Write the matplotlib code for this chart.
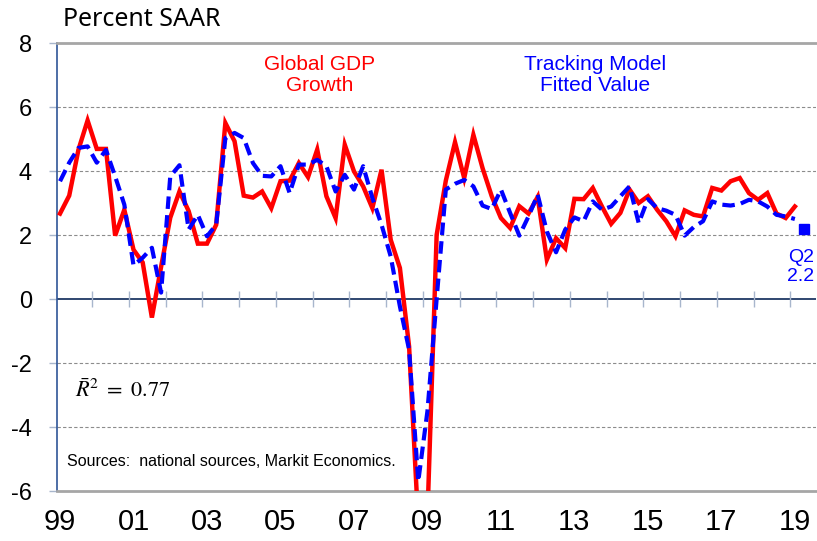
import matplotlib
matplotlib.use("Agg")
import matplotlib.pyplot as plt
from matplotlib import font_manager

# Quarterly data, 1999Q1 .. 2019Q1 (percent SAAR)
global_gdp = [2.67, 3.23, 4.66, 5.58, 4.69, 4.69, 1.98, 2.79, 1.54, 1.14,
              -0.58, 1.0, 2.54, 3.36, 2.75, 1.73, 1.73, 2.32, 5.5, 4.93,
              3.23, 3.17, 3.36, 2.84, 3.68, 3.7, 4.25, 3.81, 4.67, 3.21,
              2.53, 4.82, 3.99, 3.52, 2.84, 4.04, 1.85, 0.97, -1.48, -7.0,
              -6.8, 2.0, 3.7, 4.9, 3.78, 5.13, 4.09, 3.21, 2.53, 2.22,
              2.9, 2.67, 3.19, 1.23, 1.9, 1.59, 3.13, 3.12, 3.47, 2.89,
              2.35, 2.69, 3.42, 3.0, 3.21, 2.79, 2.43, 1.96, 2.77, 2.63,
              2.58, 3.47, 3.39, 3.68, 3.78, 3.31, 3.1, 3.31, 2.67, 2.53,
              2.89]

tracking_model = [3.68, 4.26, 4.72, 4.77, 4.26, 4.66, 3.83, 2.95, 1.05, 1.29,
                  1.6, 0.2, 3.83, 4.18, 2.17, 2.63, 1.96, 2.32, 5.03, 5.19,
                  5.03, 4.25, 3.85, 3.83, 4.15, 3.31, 4.2, 4.2, 4.35, 4.15,
                  3.36, 3.88, 3.42, 4.15, 3.16, 2.32, 1.33, -0.23, -1.58, -5.7,
                  -3.5, 0.0, 3.42, 3.6, 3.72, 3.52, 2.92, 2.81, 3.42, 2.69,
                  1.98, 2.58, 3.26, 2.11, 1.46, 2.17, 2.55, 2.43, 3.05, 2.79,
                  2.89, 3.21, 3.52, 2.37, 3.12, 2.84, 2.76, 2.63, 1.98, 2.25,
                  2.43, 3.05, 2.95, 2.92, 2.97, 3.1, 3.05, 2.89, 2.63, 2.58,
                  2.5]

# 2019Q2 tracking estimate
q2_index = 81
q2_value = 2.2

year_labels = ['99', '01', '03', '05', '07', '09', '11', '13', '15', '17', '19']
y_ticks = [8, 6, 4, 2, 0, -2, -4, -6]

quarters = list(range(len(global_gdp)))


def has_font(name):
    try:
        font_manager.findfont(name, fallback_to_default=False)
        return True
    except Exception:
        return False


if has_font('Liberation Sans Narrow'):
    narrow = 'Liberation Sans Narrow'
    xlab_size, src_size = 23, 13
else:
    narrow = 'Liberation Sans'
    xlab_size, src_size = 21, 11.5

plt.rcParams['font.family'] = ['Liberation Sans', 'DejaVu Sans']
plt.rcParams['mathtext.fontset'] = 'stix'

fig = plt.figure(figsize=(8.17, 5.41), dpi=100)
ax = fig.add_axes([57 / 817, 50 / 541, 759 / 817, 448 / 541])

# grid lines
for g in [6, 4, 2, -2, -4]:
    ax.axhline(g, color='#8c8c8c', lw=0.8, ls=(0, (3, 2)), zorder=1)
ax.axhline(0, color='#1f3864', lw=1.3, zorder=2)

# year ticks on the zero line
year_marks = [q + 3.5 for q in range(0, len(global_gdp), 4)]
ax.vlines(year_marks, -0.25, 0.25, color='#a8b6cc', lw=1.0, zorder=2)

ax.plot(quarters, global_gdp, color='#ff0000', lw=3.2, zorder=4,
        solid_joinstyle='miter')
ax.plot(quarters, tracking_model, color='#0000ff', lw=3.0,
        dashes=(3.0, 1.5), zorder=5)
ax.plot([q2_index], [q2_value], marker='s', ms=7.5, color='#0000ff',
        ls='none', zorder=6, clip_on=False)

ax.set_xlim(-0.33, 82.3)
ax.set_ylim(-6, 8)

ax.set_yticks(y_ticks)
ax.set_yticklabels([str(v) for v in y_ticks], fontsize=17)
ax.tick_params(axis='y', length=6, width=1, color='#a8b6cc', pad=12)

ax.set_xticks(list(range(0, 81, 8)))
ax.set_xticklabels(year_labels, fontsize=xlab_size, family=narrow)
ax.tick_params(axis='x', length=0, pad=12)

ax.spines['right'].set_visible(False)
ax.spines['top'].set_color('#a6a6a6')
ax.spines['top'].set_linewidth(2)
ax.spines['bottom'].set_color('#a6a6a6')
ax.spines['bottom'].set_linewidth(2)
ax.spines['left'].set_color('#2f5597')
ax.spines['left'].set_linewidth(1.2)

# texts
fig.text(63 / 817, 1 - 19 / 541, 'Percent SAAR', fontsize=18,
         family=['Noto Sans', 'DejaVu Sans'], va='center', ha='left')
fig.text(320 / 817, 1 - 75 / 541, 'Global GDP\nGrowth', color='#ff0000',
         fontsize=15, ha='center', va='center', linespacing=1.1)
fig.text(595 / 817, 1 - 75 / 541, 'Tracking Model\nFitted Value', color='#0000ff',
         fontsize=15, ha='center', va='center', linespacing=1.1)
fig.text(814 / 817, 1 - 267 / 541, 'Q2\n2.2', color='#0000ff', fontsize=14,
         ha='right', va='center', linespacing=1.15)
fig.text(75 / 817, 1 - 391 / 541, r'$\bar{R}^2\ =\ 0.77$', fontsize=16,
         ha='left', va='center')
fig.text(67 / 817, 1 - 461 / 541, 'Sources:  national sources, Markit Economics.',
         fontsize=src_size, family=narrow, ha='left', va='center')

fig.savefig('out.png', dpi=100)
